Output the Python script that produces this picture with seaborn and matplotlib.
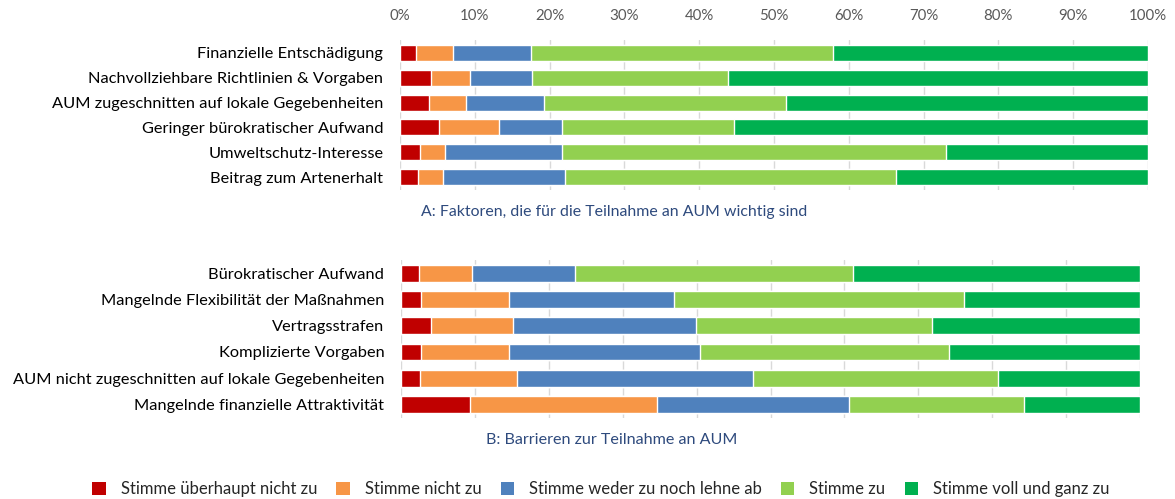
import numpy as np
import pandas as pd
import matplotlib
matplotlib.use("Agg")
import matplotlib.pyplot as plt
import seaborn as sns
from matplotlib.patches import Patch

# ---- data (percent of answers per response level) ----
levels = ["Stimme überhaupt nicht zu", "Stimme nicht zu",
          "Stimme weder zu noch lehne ab", "Stimme zu", "Stimme voll und ganz zu"]
colors = ["#C00000", "#F79646", "#4F81BD", "#92D050", "#00B050"]

cats_a = ["Finanzielle Entschädigung",
          "Nachvollziehbare Richtlinien & Vorgaben",
          "AUM zugeschnitten auf lokale Gegebenheiten",
          "Geringer bürokratischer Aufwand",
          "Umweltschutz-Interesse",
          "Beitrag zum Artenerhalt"]
a_sehr_nein = [2.1, 4.2, 3.9, 5.2, 2.7, 2.4]
a_nein      = [5.0, 5.1, 4.9, 8.1, 3.3, 3.3]
a_neutral   = [10.4, 8.3, 10.5, 8.4, 15.7, 16.4]
a_ja        = [40.4, 26.2, 32.3, 23.0, 51.3, 44.2]
a_sehr_ja   = [42.1, 56.2, 48.4, 55.3, 27.0, 33.7]

cats_b = ["Bürokratischer Aufwand",
          "Mangelnde Flexibilität der Maßnahmen",
          "Vertragsstrafen",
          "Komplizierte Vorgaben",
          "AUM nicht zugeschnitten auf lokale Gegebenheiten",
          "Mangelnde finanzielle Attraktivität"]
b_sehr_nein = [2.4, 2.7, 4.1, 2.7, 2.6, 9.3]
b_nein      = [7.2, 11.9, 11.1, 11.9, 13.1, 25.3]
b_neutral   = [13.9, 22.3, 24.7, 25.9, 31.9, 26.0]
b_ja        = [37.7, 39.3, 32.0, 33.6, 33.2, 23.7]
b_sehr_ja   = [38.8, 23.8, 28.1, 25.9, 19.2, 15.7]

sns.set_theme(style="white")
plt.rcParams['font.family'] = ['Lato', 'DejaVu Sans']

fig = plt.figure(figsize=(11.75, 4.99), dpi=100)
ax_a = fig.add_axes([0.3404, 0.6192, 0.6366, 0.3006])
ax_b = fig.add_axes([0.3413, 0.1623, 0.6290, 0.3174])


def stacked(ax, cats, parts):
    df = pd.DataFrame(dict(zip(levels, parts)), index=cats)
    cum = df.cumsum(axis=1)
    # draw from the full bar down so each shorter layer sits on top
    for lev, col in zip(levels[::-1], colors[::-1]):
        sns.barplot(x=cum[lev].values, y=cats, orient="h", color=col,
                    width=0.64, saturation=1, ax=ax, zorder=3)
    ax.set_xlim(0, 100)
    ax.set_ylim(len(cats) - 0.48, -0.52)
    ax.set_xticks(np.arange(0, 101, 10))
    ax.grid(axis="x", color="#D9D9D9", lw=1, zorder=0)
    ax.grid(axis="y", visible=False)
    for s in ax.spines.values():
        s.set_visible(False)
    ax.tick_params(axis="y", length=0, pad=12, labelsize=11.8, labelcolor="#000000")
    ax.set_xlabel("")
    ax.set_ylabel("")


stacked(ax_a, cats_a, [a_sehr_nein, a_nein, a_neutral, a_ja, a_sehr_ja])
stacked(ax_b, cats_b, [b_sehr_nein, b_nein, b_neutral, b_ja, b_sehr_ja])

ax_a.xaxis.tick_top()
ax_a.set_xticklabels([f"{v}%" for v in range(0, 101, 10)])
ax_a.tick_params(axis="x", length=0, pad=12, labelsize=10.8, labelcolor="#595959")
ax_b.tick_params(axis="x", length=0, labelbottom=False)

fig.text(614 / 1175, 1 - 212 / 499, "A: Faktoren, die für die Teilnahme an AUM wichtig sind",
         ha="center", va="center", fontsize=11.4, color="#2E4A7D")
fig.text(612 / 1175, 1 - 440 / 499, "B: Barrieren zur Teilnahme an AUM",
         ha="center", va="center", fontsize=11.6, color="#2E4A7D")

handles = [Patch(facecolor=c, edgecolor="none") for c in colors]
fig.legend(handles, levels, loc="center", bbox_to_anchor=(601 / 1175, 1 - 489 / 499),
           ncol=5, frameon=False, fontsize=12, handlelength=0.8, handleheight=0.8,
           handletextpad=0.9, columnspacing=1.15)

fig.savefig("out.png", dpi=100)
